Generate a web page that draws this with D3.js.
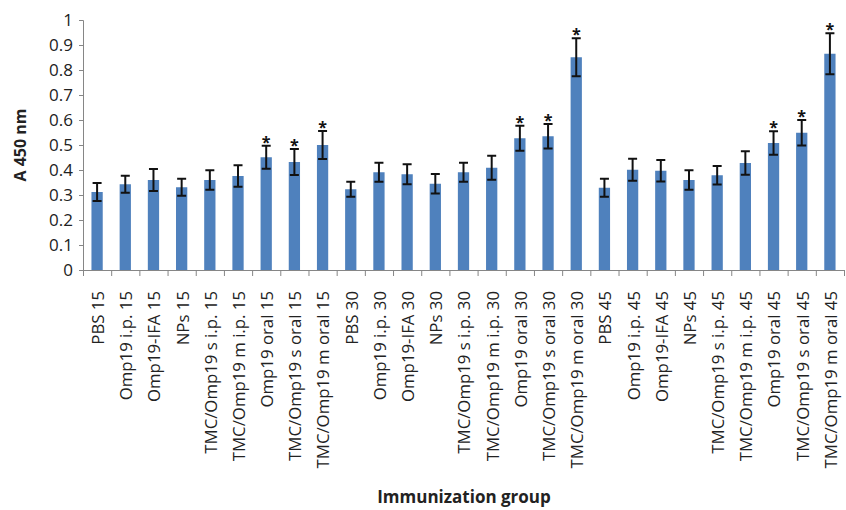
<!DOCTYPE html>
<meta charset="utf-8">
<title>A 450 nm by immunization group</title>
<script src="https://d3js.org/d3.v7.min.js"></script>
<style>
  body { margin: 0; background: #fff; }
  text { font-family: "Open Sans", "Liberation Sans", sans-serif; }
</style>
<body>
<div id="chart"></div>
<script>
// groups, mean absorbance, error (half-height of error bar), significance
var groups = [
  "PBS 15", "Omp19 i.p. 15", "Omp19-IFA 15", "NPs 15", "TMC/Omp19 s i.p. 15",
  "TMC/Omp19 m i.p. 15", "Omp19 oral 15", "TMC/Omp19 s oral 15", "TMC/Omp19 m oral 15",
  "PBS 30", "Omp19 i.p. 30", "Omp19-IFA 30", "NPs 30", "TMC/Omp19 s i.p. 30",
  "TMC/Omp19 m i.p. 30", "Omp19 oral 30", "TMC/Omp19 s oral 30", "TMC/Omp19 m oral 30",
  "PBS 45", "Omp19 i.p. 45", "Omp19-IFA 45", "NPs 45", "TMC/Omp19 s i.p. 45",
  "TMC/Omp19 m i.p. 45", "Omp19 oral 45", "TMC/Omp19 s oral 45", "TMC/Omp19 m oral 45"
];
var means = [
  0.312, 0.343, 0.360, 0.331, 0.360, 0.376, 0.451, 0.432, 0.500,
  0.323, 0.391, 0.383, 0.345, 0.391, 0.409, 0.527, 0.535, 0.851,
  0.329, 0.401, 0.397, 0.360, 0.379, 0.428, 0.508, 0.549, 0.865
];
var errors = [
  0.036, 0.034, 0.044, 0.034, 0.039, 0.043, 0.046, 0.052, 0.056,
  0.030, 0.038, 0.040, 0.039, 0.038, 0.048, 0.050, 0.049, 0.076,
  0.036, 0.044, 0.043, 0.039, 0.037, 0.047, 0.047, 0.051, 0.082
];
var signif = [
  0, 0, 0, 0, 0, 0, 1, 1, 1,
  0, 0, 0, 0, 0, 0, 1, 1, 1,
  0, 0, 0, 0, 0, 0, 1, 1, 1
];
var yTicks = [0, 0.1, 0.2, 0.3, 0.4, 0.5, 0.6, 0.7, 0.8, 0.9, 1];

var data = groups.map(function(g, i) {
  return { group: g, mean: means[i], err: errors[i], star: signif[i] };
});

var W = 846, H = 510;
var margin = {top: 20, right: 2, bottom: 240, left: 83};
var width = W - margin.left - margin.right,
    height = H - margin.top - margin.bottom;

var svg = d3.select("#chart").append("svg")
    .attr("width", W)
    .attr("height", H)
  .append("g")
    .attr("transform", "translate(" + margin.left + "," + margin.top + ")");

var x = d3.scaleBand()
    .domain(groups)
    .range([0, width])
    .paddingInner(0.6)
    .paddingOuter(0.3);

// category boundaries for tick marks
var xEdge = d3.scaleLinear().domain([0, groups.length]).range([0, width]);

var y = d3.scaleLinear()
    .domain([0, 1])
    .range([height, 0]);

var axisColor = "#868686";

// Y axis
var yAxis = svg.append("g")
    .call(d3.axisLeft(y).tickValues(yTicks).tickSize(4).tickPadding(6)
      .tickFormat(function(d) { return d3.format("")(+d.toFixed(1)); }));
yAxis.select(".domain").attr("stroke", axisColor);
yAxis.selectAll(".tick line").attr("stroke", axisColor);
yAxis.selectAll(".tick text")
    .attr("fill", "#222")
    .style("font-size", "17px")
    .style("font-family", "'Open Sans', sans-serif");

// X axis (ticks at category edges)
var xAxis = svg.append("g")
    .attr("transform", "translate(0," + height + ")")
    .call(d3.axisBottom(xEdge).tickValues(d3.range(groups.length + 1))
      .tickSize(6).tickSizeOuter(0).tickFormat(""));
xAxis.select(".domain").attr("stroke", axisColor);
xAxis.selectAll(".tick line").attr("stroke", axisColor);

// bars
svg.selectAll("rect.bar")
  .data(data)
  .enter()
  .append("rect")
    .attr("class", "bar")
    .attr("x", function(d) { return x(d.group); })
    .attr("y", function(d) { return y(d.mean); })
    .attr("width", x.bandwidth())
    .attr("height", function(d) { return height - y(d.mean); })
    .attr("fill", "#4f81bd");

// error bars
var eb = svg.selectAll("g.err")
  .data(data)
  .enter()
  .append("g")
    .attr("class", "err")
    .attr("stroke", "#111")
    .attr("stroke-width", 2);
var cx = function(d) { return x(d.group) + x.bandwidth() / 2; };
var capW = 4.5;
eb.append("line")
    .attr("x1", cx).attr("x2", cx)
    .attr("y1", function(d) { return y(d.mean + d.err); })
    .attr("y2", function(d) { return y(d.mean - d.err); });
eb.append("line")
    .attr("x1", function(d) { return cx(d) - capW; })
    .attr("x2", function(d) { return cx(d) + capW; })
    .attr("y1", function(d) { return y(d.mean + d.err); })
    .attr("y2", function(d) { return y(d.mean + d.err); });
eb.append("line")
    .attr("x1", function(d) { return cx(d) - capW; })
    .attr("x2", function(d) { return cx(d) + capW; })
    .attr("y1", function(d) { return y(d.mean - d.err); })
    .attr("y2", function(d) { return y(d.mean - d.err); });

// significance stars
svg.selectAll("text.star")
  .data(data.filter(function(d) { return d.star; }))
  .enter()
  .append("text")
    .attr("class", "star")
    .attr("x", cx)
    .attr("y", function(d) { return y(d.mean + d.err) + 2; })
    .attr("text-anchor", "middle")
    .style("font-size", "16px")
    .style("font-weight", "bold")
    .attr("fill", "#111")
    .text("*");

// category labels
svg.selectAll("text.cat")
  .data(data)
  .enter()
  .append("text")
    .attr("class", "cat")
    .attr("transform", function(d) {
      return "translate(" + (cx(d) + 1) + "," + (height + 21) + ") rotate(-90)";
    })
    .attr("dy", "0.35em")
    .attr("text-anchor", "end")
    .style("font-size", "16.8px")
    .attr("fill", "#222")
    .text(function(d) { return d.group; });

// axis titles
svg.append("text")
    .attr("transform", "translate(" + (20 - margin.left) + "," + (y(0.5)) + ") rotate(-90)")
    .attr("dy", "0.35em")
    .attr("text-anchor", "middle")
    .style("font-size", "16px")
    .style("font-weight", "bold")
    .attr("fill", "#222")
    .text("A 450 nm");

svg.append("text")
    .attr("x", 464 - margin.left)
    .attr("y", 503 - margin.top)
    .attr("text-anchor", "middle")
    .style("font-size", "17px")
    .style("font-weight", "bold")
    .attr("fill", "#222")
    .text("Immunization group");
</script>
</body>
